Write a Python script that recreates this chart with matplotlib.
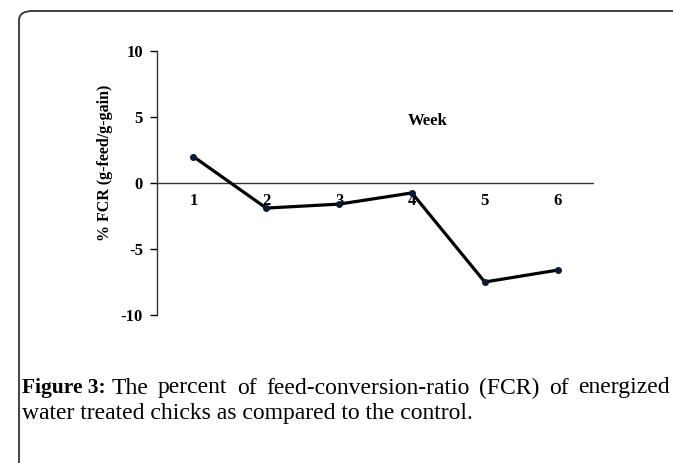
import matplotlib
matplotlib.use("Agg")
import matplotlib.pyplot as plt
from matplotlib.patches import FancyBboxPatch

weeks = [1, 2, 3, 4, 5, 6]
fcr = [2.0, -1.9, -1.6, -0.75, -7.5, -6.6]
yticks = [-10, -5, 0, 5, 10]
caption_bold = 'Figure 3:'
caption_line1 = 'The percent of feed-conversion-ratio (FCR) of energized'
caption_line2 = 'water treated chicks as compared to the control.'

plt.rcParams['font.family'] = ['Liberation Serif', 'DejaVu Serif']

fig = plt.figure(figsize=(6.73, 4.63), dpi=100)

# frame around the figure (rounded top-left corner)
frame = FancyBboxPatch((19 / 673, -0.2), 1.2, 1 - 11 / 463 + 0.2,
                       boxstyle="round,pad=0,rounding_size=0.02",
                       transform=fig.transFigure, fill=False,
                       edgecolor='#333333', linewidth=1.3, clip_on=False)
fig.patches.append(frame)

ax = fig.add_axes([157 / 673, 1 - 315 / 463, (594 - 157) / 673, (315 - 51) / 463])
ax.plot(weeks, fcr, color='black', linewidth=2.3, zorder=3)
ax.scatter(weeks, fcr, s=16, color='#0b1a33', zorder=4)
ax.axhline(0, color='#333333', linewidth=1.0, zorder=2)

ax.set_xlim(0.5, 6.5)
ax.set_ylim(-10, 10)
ax.set_yticks(yticks)
ax.set_yticklabels([str(v) for v in yticks], fontweight='bold', fontsize=12)
ax.tick_params(axis='y', direction='out', length=5, width=1, pad=5)
ax.set_xticks([])
for s in ['top', 'right', 'bottom']:
    ax.spines[s].set_visible(False)
ax.spines['left'].set_linewidth(1.0)
ax.spines['left'].set_color('#333333')

for w in weeks:
    ax.text(w, -1.4, str(w), ha='center', va='center', fontweight='bold', fontsize=12)
ax.text(4.22, 4.7, 'Week', ha='center', va='center', fontweight='bold', fontsize=12)

ax.set_ylabel('% FCR (g-feed/g-gain)', fontweight='bold', fontsize=11.5)
ax.yaxis.set_label_coords(-0.1, 0.576)

# caption, first line justified word by word
y1 = 1 - 388 / 463
y2 = 1 - 414 / 463
t1 = fig.text(22 / 673, y1, caption_bold, fontweight='bold', fontsize=15.5,
              va='center', ha='left')
fig.canvas.draw()
r = fig.canvas.get_renderer()
start = t1.get_window_extent(r).x1 + 6
end = 670
words = caption_line1.split()
texts = [fig.text(0, y1, w, fontsize=17, va='center', ha='left') for w in words]
widths = [t.get_window_extent(r).width for t in texts]
gap = (end - start - sum(widths)) / (len(words) - 1)
x = start
for t, w in zip(texts, widths):
    t.set_x(x / 673)
    x += w + gap
fig.text(22 / 673, y2, caption_line2, fontsize=17, va='center', ha='left')

fig.savefig('out.png', dpi=100)
